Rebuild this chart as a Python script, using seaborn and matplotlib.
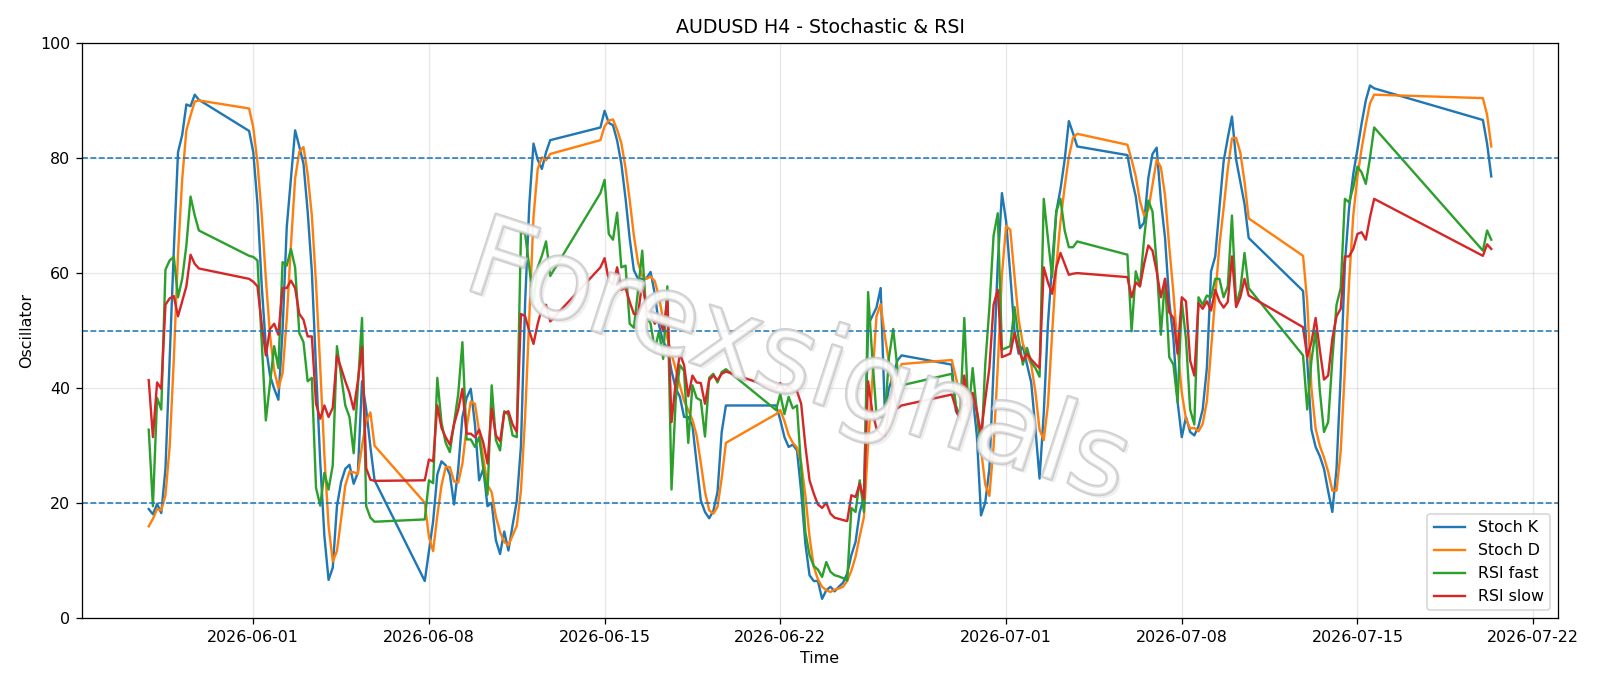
import pandas as pd
import seaborn as sns
import matplotlib.pyplot as plt
import matplotlib.patheffects as pe

# H4 sessions: first bar of each run and number of bars in it
SEG_STARTS = ["2026-05-27 20:00", "2026-05-31 20:00", "2026-06-07 20:00",
              "2026-06-14 20:00", "2026-06-21 20:00", "2026-06-28 20:00",
              "2026-07-05 20:00", "2026-07-12 20:00", "2026-07-20 00:00"]
SEG_BARS = [13, 31, 31, 31, 31, 31, 30, 18, 3]

STOCH_K = [
    19.0, 18.1, 19.9, 18.3, 26.0, 45.0, 64.0, 81.0, 84.0, 89.3, 89.0, 91.0, 90.1,
    84.7, 81.0, 72.0, 58.0, 47.3, 42.2, 39.9, 38.0, 50.0, 68.0, 76.5, 84.8, 82.0, 79.0, 70.7, 60.3,
    43.5, 27.3, 14.3, 6.7, 8.8, 19.5, 23.7, 26.0, 26.7, 23.4, 25.3, 41.2, 36.3, 29.8, 24.0,
    6.5, 11.7, 16.9, 25.0, 27.3, 26.6, 25.0, 19.8, 26.0, 35.0, 38.3, 39.9, 33.7, 24.0, 26.0, 19.5,
    20.1, 13.6, 11.2, 15.1, 11.8, 16.2, 20.4, 30.0, 55.0, 72.0, 82.5, 79.7, 78.1, 81.0, 83.1,
    85.3, 88.2, 86.1, 85.7, 83.0, 79.0, 73.0, 66.0, 60.5, 59.0, 59.0, 59.1, 60.2, 56.4, 51.0, 48.0,
    47.0, 43.0, 40.0, 38.5, 35.0, 35.0, 33.5, 27.0, 20.5, 18.5, 17.4, 18.7, 22.0, 32.4, 37.0,
    37.0, 34.5, 31.5, 29.8, 30.2, 29.2, 22.0, 13.0, 7.5, 6.5, 6.5, 3.4, 4.9, 5.5, 4.7, 5.5,
    6.2, 7.8, 11.0, 13.3, 18.5, 21.0, 51.0, 52.5, 54.0, 57.4, 36.0, 40.0, 42.2, 44.8, 45.7,
    44.1, 36.0, 34.7, 40.0, 38.0, 38.6, 31.8, 17.9, 20.1, 26.0, 43.5, 61.6, 73.9, 69.0, 59.7, 49.9,
    46.0, 47.3, 44.1, 41.0, 33.0, 24.3, 35.7, 51.2, 61.6, 70.7, 74.6, 79.7, 86.4, 84.3, 82.0,
    80.5, 76.5, 73.3, 67.8, 68.8, 76.5, 80.7, 81.8, 72.6, 66.1, 55.1, 48.6, 37.6, 31.5, 35.0,
    32.4, 31.8, 33.4, 36.3, 43.5, 60.3, 62.9, 71.3, 79.4, 83.5, 87.2, 79.7, 75.9, 72.0, 66.1,
    56.9, 44.8, 32.8, 29.8, 28.2, 26.0, 22.1, 18.5, 26.0, 42.2, 61.6, 71.3, 77.2, 81.5, 86.0, 90.0,
    92.6, 92.1,
    86.6, 82.5, 76.8,
]

STOCH_D = [
    16.0, 17.3, 19.0, 18.8, 21.4, 29.8, 45.0, 63.3, 76.3, 84.8, 87.4, 89.8, 90.0,
    88.6, 85.3, 79.2, 70.3, 59.1, 49.2, 43.1, 40.0, 42.6, 52.0, 64.8, 76.4, 81.1, 81.9, 77.2, 70.0,
    58.2, 43.7, 28.4, 16.1, 9.9, 11.7, 17.3, 23.1, 25.5, 25.4, 25.1, 30.0, 34.3, 35.8, 30.0,
    20.1, 14.1, 11.7, 17.9, 23.1, 26.3, 26.3, 23.8, 23.6, 26.9, 33.1, 37.7, 37.3, 32.5, 27.9, 23.2,
    21.9, 17.7, 15.0, 13.3, 12.7, 14.4, 16.1, 22.2, 35.1, 52.3, 69.8, 78.1, 80.1, 79.6, 80.7,
    83.1, 85.5, 86.5, 86.7, 84.9, 82.6, 78.3, 72.7, 66.5, 61.8, 59.5, 59.0, 59.4, 58.6, 55.9, 51.8,
    48.7, 46.0, 43.3, 40.5, 37.8, 36.2, 34.5, 31.8, 27.0, 22.0, 18.8, 18.2, 19.4, 24.4, 30.5,
    35.5, 36.2, 34.3, 31.9, 30.5, 29.7, 27.1, 21.4, 14.2, 9.0, 6.8, 5.5, 4.9, 4.6, 5.0, 5.2,
    5.5, 6.5, 8.3, 10.7, 14.3, 17.6, 30.2, 41.5, 52.5, 54.6, 49.1, 44.5, 39.4, 42.3, 44.2,
    44.9, 41.9, 38.3, 36.9, 37.6, 38.9, 36.1, 29.4, 23.3, 21.3, 29.9, 43.7, 59.7, 68.2, 67.5, 59.5,
    51.9, 47.7, 45.8, 44.1, 39.4, 32.8, 31.0, 37.1, 49.5, 61.2, 69.0, 75.0, 80.2, 83.5, 84.2,
    82.3, 79.7, 76.8, 72.5, 70.0, 71.0, 75.3, 79.7, 78.4, 73.5, 64.6, 56.6, 47.1, 39.2, 34.7,
    33.0, 33.1, 32.5, 33.8, 37.7, 46.7, 55.6, 64.8, 71.2, 78.1, 83.4, 83.5, 80.9, 75.9, 69.5,
    63.0, 55.0, 40.0, 33.0, 30.0, 28.0, 25.5, 22.2, 22.2, 29.0, 43.3, 58.4, 70.0, 76.7, 81.6, 85.8,
    89.5, 91.0,
    90.4, 87.5, 82.0,
]

RSI_FAST = [
    32.8, 19.5, 38.3, 36.3, 60.6, 62.2, 62.8, 55.8, 59.0, 64.8, 73.3, 70.0, 67.4,
    63.0, 62.8, 62.2, 48.3, 34.4, 40.9, 47.3, 43.5, 61.9, 61.3, 64.2, 61.0, 49.6, 48.0, 41.2, 41.8,
    22.7, 19.6, 25.3, 22.4, 26.6, 47.3, 42.2, 37.0, 35.0, 28.7, 40.2, 52.2, 19.5, 17.5, 16.8,
    17.2, 24.0, 23.5, 41.8, 34.0, 30.5, 28.9, 34.0, 39.0, 48.0, 31.1, 31.1, 29.8, 31.5, 26.0, 21.5,
    40.5, 31.0, 29.2, 36.0, 35.4, 31.8, 31.5, 67.1, 66.8, 61.0, 55.0, 61.0, 63.0, 65.5, 59.5,
    73.9, 76.2, 66.8, 65.8, 70.5, 61.0, 61.3, 51.2, 50.5, 57.0, 63.9, 52.5, 51.2, 46.7, 49.9, 45.1,
    57.7, 22.4, 38.0, 44.0, 43.0, 30.5, 40.5, 38.3, 37.9, 31.6, 41.8, 42.5, 41.0, 42.8, 43.3,
    36.2, 39.0, 35.5, 38.5, 36.5, 37.0, 26.0, 15.0, 11.0, 9.1, 8.5, 7.2, 9.8, 8.1, 7.5, 7.3,
    7.0, 6.6, 19.2, 18.5, 24.0, 18.5, 56.7, 45.4, 35.4, 35.0, 35.0, 45.4, 50.3, 43.5, 40.5,
    42.5, 37.0, 35.0, 52.2, 35.5, 43.5, 36.0, 28.5, 44.0, 54.0, 66.5, 70.4, 46.7, 47.0, 47.3, 54.1,
    48.6, 44.1, 47.0, 44.5, 43.5, 42.0, 72.9, 66.0, 59.3, 70.7, 72.9, 67.4, 64.5, 64.5, 65.5,
    63.2, 49.9, 60.3, 57.7, 66.1, 72.6, 70.7, 61.6, 49.3, 59.0, 45.4, 44.1, 37.6, 55.1, 48.6,
    36.3, 33.7, 55.8, 54.5, 56.1, 55.8, 59.0, 59.0, 55.8, 57.7, 70.0, 54.5, 57.1, 63.5, 57.4,
    45.7, 36.3, 44.8, 50.0, 39.6, 32.4, 34.1, 45.0, 54.5, 57.4, 72.9, 72.3, 74.9, 78.5, 77.5, 75.5,
    80.0, 85.3,
    63.9, 67.4, 65.8,
]

RSI_SLOW = [
    41.4, 31.5, 41.0, 39.9, 54.5, 55.6, 56.0, 52.5, 55.1, 57.7, 63.2, 61.6, 60.8,
    59.0, 58.5, 57.7, 51.2, 45.7, 50.3, 51.2, 49.3, 57.4, 57.4, 58.7, 57.4, 52.9, 51.9, 49.0, 49.0,
    37.3, 34.7, 37.0, 35.0, 36.6, 45.7, 43.5, 41.2, 39.2, 36.3, 41.2, 47.2, 26.1, 24.1, 23.9,
    24.0, 27.6, 27.3, 37.0, 33.1, 31.5, 30.2, 33.7, 36.3, 39.9, 32.1, 32.1, 31.5, 32.8, 30.5, 26.9,
    36.5, 31.8, 30.8, 35.7, 36.0, 33.7, 32.4, 52.9, 52.5, 49.9, 47.7, 51.2, 53.8, 54.5, 51.6,
    61.0, 62.6, 58.7, 58.0, 61.0, 57.1, 57.4, 55.0, 52.9, 52.9, 58.4, 53.8, 52.9, 51.2, 52.5, 49.9,
    55.4, 34.1, 41.0, 46.0, 44.0, 38.6, 42.2, 41.0, 40.9, 37.3, 41.4, 42.2, 41.4, 42.5, 42.9,
    39.9, 40.9, 39.5, 40.5, 39.6, 39.5, 37.3, 30.0, 24.0, 21.7, 19.8, 19.2, 20.1, 18.2, 17.5, 17.3,
    17.1, 16.9, 21.4, 21.1, 23.4, 20.8, 41.2, 36.0, 33.0, 32.0, 31.8, 36.5, 39.9, 36.5, 37.0,
    38.9, 36.5, 34.4, 42.2, 36.5, 39.2, 36.0, 32.1, 38.0, 43.5, 54.5, 57.1, 45.4, 45.7, 46.0, 49.6,
    46.7, 44.8, 46.0, 45.0, 44.2, 43.5, 61.0, 58.4, 56.4, 61.0, 63.5, 61.6, 59.7, 59.9, 60.0,
    59.3, 55.8, 58.4, 57.7, 61.6, 64.8, 63.9, 60.3, 55.8, 59.0, 53.2, 52.2, 46.0, 55.8, 55.1,
    44.8, 42.2, 54.8, 53.8, 55.1, 53.5, 57.1, 55.1, 54.0, 55.0, 62.9, 54.1, 55.8, 59.0, 56.1,
    50.6, 45.4, 48.0, 52.2, 46.7, 41.5, 42.2, 48.6, 52.5, 53.8, 62.9, 62.9, 64.2, 66.8, 67.1, 65.8,
    69.7, 72.9,
    63.0, 65.0, 64.2,
]

SERIES = ["Stoch K", "Stoch D", "RSI fast", "RSI slow"]
COLORS = ["#1f77b4", "#ff7f0e", "#2ca02c", "#d62728"]
LEVELS = [80, 50, 20]

times = pd.DatetimeIndex([])
for start, n in zip(SEG_STARTS, SEG_BARS):
    times = times.append(pd.date_range(start, periods=n, freq="4h"))

wide = pd.DataFrame({"Time": times, "Stoch K": STOCH_K, "Stoch D": STOCH_D,
                     "RSI fast": RSI_FAST, "RSI slow": RSI_SLOW})
df = wide.melt(id_vars="Time", var_name="Series", value_name="Value")

DPI = 1600 / 14
fig, ax = plt.subplots(figsize=(14, 686 / DPI), dpi=DPI)
fig.subplots_adjust(left=0.051, right=0.974, top=0.9375, bottom=0.0985)

sns.lineplot(data=df, x="Time", y="Value", hue="Series", hue_order=SERIES,
             palette=COLORS, linewidth=1.5, ax=ax)

for lvl in LEVELS:
    ax.axhline(lvl, color="#1f77b4", linestyle="--", linewidth=1)

ax.set_ylim(0, 100)
ax.grid(True, alpha=0.3)
ax.set_title("AUDUSD H4 - Stochastic & RSI")
ax.set_xlabel("Time")
ax.set_ylabel("Oscillator")
sns.move_legend(ax, "lower right", title=None)

# watermark: hollow grey letters with a soft shadow, drawn over the lines
ax.text(0.485, 0.44, "Forexsignals", transform=ax.transAxes, fontsize=70,
        rotation=-18, ha="center", va="center", color="white", alpha=0.35,
        zorder=10,
        path_effects=[pe.withSimplePatchShadow(offset=(2, -2), shadow_rgbFace="#999999", alpha=0.15),
                      pe.Stroke(linewidth=1.8, foreground="#c2c2c2", alpha=0.8),
                      pe.Normal()])

fig.savefig("out.png", dpi=DPI)
